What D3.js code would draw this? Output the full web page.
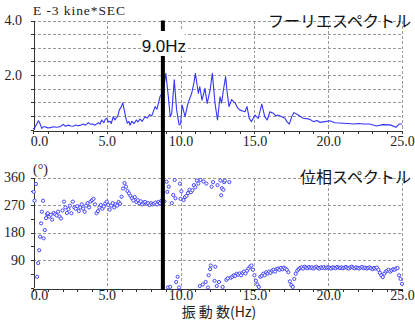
<!DOCTYPE html>
<html><head><meta charset="utf-8">
<script src="https://cdn.jsdelivr.net/npm/d3@7"></script>
<style>body{margin:0;background:#fff}svg{display:block}</style>
</head><body>
<svg id="c" width="415" height="320"></svg>
<script>
// ---------- data ----------
const specFreq = [0.0,0.07,0.2,0.36,0.45,0.59,0.7,0.81,1.0,1.15,1.4,1.6,1.83,2.05,2.2,2.4,2.55,2.73,2.9,3.0,3.18,3.4,3.55,3.75,3.9,4.05,4.2,4.43,4.55,4.65,4.8,4.9,5.0,5.1,5.22,5.3,5.44,5.55,5.62,5.75,5.85,6.0,6.08,6.15,6.23,6.3,6.39,6.5,6.57,6.7,6.85,7.0,7.1,7.25,7.4,7.59,7.75,7.9,8.05,8.27,8.4,8.6,8.75,8.85,9.0,9.17,9.3,9.4,9.57,9.73,9.9,10.0,10.1,10.3,10.5,10.75,10.9,11.0,11.2,11.3,11.45,11.65,11.8,12.0,12.15,12.33,12.5,12.67,12.78,12.9,13.05,13.16,13.28,13.46,13.7,13.85,14.0,14.2,14.36,14.5,14.65,14.8,15.04,15.26,15.5,15.7,15.87,16.05,16.28,16.45,16.6,16.85,17.07,17.2,17.37,17.53,17.68,17.97,18.3,18.65,18.77,19.0,19.25,19.45,19.78,20.1,20.46,21.0,21.35,21.7,22.05,22.4,22.8,23.28,23.7,24.2,24.6,24.8,25.0];
const specAmp  = [0.05,0.02,0.15,0.32,0.25,0.04,0.1,0.1,0.06,0.07,0.1,0.08,0.1,0.19,0.12,0.16,0.13,0.12,0.17,0.14,0.15,0.2,0.16,0.25,0.19,0.2,0.16,0.25,0.2,0.35,0.25,0.38,0.41,0.28,0.3,0.22,0.47,0.35,0.41,0.5,0.72,0.85,0.98,0.8,0.59,0.4,0.23,0.3,0.16,0.3,0.22,0.35,0.28,0.38,0.3,0.47,0.42,0.55,0.5,0.84,0.75,1.2,1.33,1.5,2.06,1.2,0.47,0.6,1.82,0.72,0.17,0.2,0.9,0.47,0.96,1.33,1.7,2.06,1.33,1.57,1.08,1.51,0.96,1.45,2.06,0.97,0.35,1.2,0.97,1.45,1.94,1.33,0.84,1.1,0.97,0.8,0.72,0.68,0.65,0.84,0.41,0.29,0.53,0.41,0.93,0.47,0.35,0.65,0.6,0.5,0.53,0.47,0.41,0.29,0.2,0.47,0.62,0.53,0.41,0.39,0.37,0.29,0.33,0.26,0.29,0.32,0.25,0.23,0.22,0.2,0.22,0.2,0.2,0.13,0.18,0.17,0.08,0.2,0.2];

const phaseFreq = [
 0.05,0.1,0.2,0.28,0.35,0.42,0.48,0.55,0.6,0.68,0.72,0.8,0.88,0.95,
 1.0,1.1,1.2,1.3,1.4,1.5,1.6,1.7,1.8,1.9,
 2.0,2.1,2.2,2.3,2.4,2.5,2.6,2.7,2.8,2.9,
 3.0,3.1,3.2,3.3,3.4,3.5,3.6,3.7,3.8,3.9,
 4.0,4.1,4.2,4.3,4.4,4.5,4.6,4.7,4.8,4.9,
 5.0,5.1,5.2,5.3,5.4,5.5,5.6,5.7,5.8,5.9,
 6.0,6.1,6.2,6.3,6.4,6.5,6.6,6.7,6.8,6.9,
 7.0,7.1,7.2,7.3,7.4,7.5,7.6,7.7,7.8,7.9,
 8.0,8.1,8.2,8.3,8.4,8.5,8.6,8.7,8.8,8.9,
 9.05,9.1,9.15,9.2,9.3,9.4,9.5,9.6,9.65,9.7,9.8,9.9,9.95,
 10.0,10.05,10.2,10.3,10.4,10.5,10.6,10.7,10.8,10.9,11.0,
 11.1,11.2,11.3,11.35,11.5,11.55,11.7,11.75,11.85,11.9,12.0,
 12.05,12.1,12.2,12.3,12.35,12.45,12.5,12.6,12.7,12.75,12.8,12.85,12.9,12.95,13.0,
 13.1,13.2,13.3,13.4,13.5,13.6,13.7,13.8,13.9,14.0,
 14.1,14.2,14.3,14.4,14.5,14.6,14.7,14.8,14.9,15.0,
 15.1,15.2,15.3,15.4,15.5,15.6,15.7,15.8,15.9,16.0,
 16.1,16.2,16.3,16.4,16.5,16.6,16.7,16.8,16.9,17.0,
 17.1,17.2,17.3,17.4,17.5,17.6,17.7,17.8,17.9,18.0,
 18.1,18.2,18.3,18.4,18.5,18.6,18.7,18.8,18.9,19.0,
 19.1,19.2,19.3,19.4,19.5,19.6,19.7,19.8,19.9,20.0,
 20.1,20.2,20.3,20.4,20.5,20.6,20.7,20.8,20.9,21.0,
 21.1,21.2,21.3,21.4,21.5,21.6,21.7,21.8,21.9,22.0,
 22.1,22.2,22.3,22.4,22.5,22.6,22.7,22.8,22.9,23.0,
 23.1,23.2,23.3,23.4,23.5,23.6,23.7,23.8,23.9,24.0,
 24.1,24.2,24.3,24.4,24.5,24.6,24.7,24.8,24.9,25.0];
const phaseDeg = [
 313,284,339,35,80,122,166,210,248,284,161,188,227,240,
 243,232,238,222,244,240,236,248,232,226,
 252,281,262,244,256,268,243,281,262,258,
 266,250,262,272,258,248,268,276,262,281,
 286,290,272,243,250,262,270,258,265,275,
 281,270,255,268,276,262,272,268,280,274,
 297,324,342,330,316,308,300,292,285,296,
 280,286,276,282,272,278,280,274,276,270,
 276,272,274,278,272,280,276,284,286,282,
 346,313,0,330,2,276,303,352,292,18,35,0,340,
 290,315,286,296,300,309,320,312,318,335,328,
 350,340,5,352,10,347,18,340,0,40,60,
 72,330,345,22,68,5,335,18,350,302,325,2,320,345,350,
 25,30,345,32,35,40,38,45,42,46,
 40,48,52,46,55,62,68,72,58,40,
 22,10,2,35,38,45,40,50,46,52,
 48,55,58,52,60,62,58,64,60,65,
 62,58,50,20,8,2,28,45,55,60,
 64,66,62,68,65,63,67,64,66,62,
 65,68,64,62,66,64,67,63,65,66,
 64,62,66,65,63,67,65,64,66,63,
 65,67,64,62,66,68,65,63,66,64,
 62,65,67,63,65,62,64,66,63,60,
 64,62,65,58,48,40,34,45,52,55,
 58,52,56,60,58,62,64,40,28,12];

const xLabelVals = [0,5,10,15,20,25];
const xMinorVals = d3.range(0, 26, 1);
const ampGridVals = [0.5,1.0,1.5,2.0,2.5,3.0,3.5,4.0];
const ampLabelVals = [2.0,4.0];
const ampTickVals = [0,0.5,1.0,1.5,2.0,2.5,3.0,3.5,4.0];
const phaseGridVals = [90,180,270,360];
const phaseTickVals = [0,45,90,135,180,225,270,315,360];
const markerFreq = 8.8;
const markerLabel = "9.0Hz";
const titleTop = "フーリエスペクトル";
const titleBottom = "位相スペクトル";
const unitTop = "E -3 kine*SEC";
const unitBottom = "(°)";
const xTitle = "振 動 数(Hz)";

// ---------- drawing ----------
const svg = d3.select("#c");
const blue = "#3535ff";
const gridCol = "#9a9a9a";
const serif = "'Liberation Serif','DejaVu Serif',serif";
const x = d3.scaleLinear([0,25],[33,402]);
const yA = d3.scaleLinear([0,4],[129.5,20.5]);
const yP = d3.scaleLinear([0,360],[287.5,177.5]);
const px = v => Math.round(v) + 0.5;

function grid(yScale, vals, y0, y1) {
  const g = svg.append("g").attr("stroke", gridCol).attr("stroke-dasharray","3,2").attr("shape-rendering","crispEdges");
  vals.forEach(v => g.append("line").attr("x1", x(0)).attr("x2", x(25)).attr("y1", px(yScale(v))).attr("y2", px(yScale(v))));
  xLabelVals.slice(1).forEach(v => g.append("line").attr("x1", px(x(v))).attr("x2", px(x(v))).attr("y1", y0).attr("y2", y1));
}
grid(yA, ampGridVals, yA(4), yA(0));
grid(yP, phaseGridVals, yP(360), yP(0));

// axes (ticks)
function axes(yScale, yTicks) {
  const gx = svg.append("g").attr("transform", `translate(0,${px(yScale.range()[0])})`)
    .call(d3.axisBottom(x).tickValues(xMinorVals).tickSize(3).tickSizeOuter(0).tickFormat(""));
  const gy = svg.append("g").attr("transform", `translate(${px(x(0))},0)`)
    .call(d3.axisLeft(yScale).tickValues(yTicks).tickSize(3).tickSizeOuter(0).tickFormat(""));
  [gx, gy].forEach(g => { g.selectAll("path,line").attr("stroke","#333").attr("shape-rendering","crispEdges"); });
}
axes(yA, ampTickVals);
axes(yP, phaseTickVals);

// y labels
svg.append("g").attr("transform","translate(22,0)")
  .call(d3.axisLeft(yA).tickValues(ampLabelVals).tickSize(0).tickPadding(0).tickFormat(d3.format(".1f")))
  .call(g => { g.select(".domain").remove(); g.selectAll("text").attr("font-family", serif).attr("font-size", 14).attr("fill","#222"); });
svg.append("g").attr("transform","translate(25,0)")
  .call(d3.axisLeft(yP).tickValues(phaseGridVals).tickSize(0).tickPadding(0).tickFormat(d3.format("d")))
  .call(g => { g.select(".domain").remove(); g.selectAll("text").attr("font-family", serif).attr("font-size", 14).attr("fill","#222"); });

// x labels
svg.append("clipPath").attr("id","topclip").append("rect").attr("x",0).attr("y",0).attr("width",415).attr("height",142);
function xLabels(yPos, clip) {
  const g = svg.append("g").attr("transform", `translate(0,${yPos})`)
    .call(d3.axisBottom(x).tickValues(xLabelVals).tickSize(0).tickPadding(0).tickFormat(d3.format(".1f")))
    .call(g => { g.select(".domain").remove(); g.selectAll("text").attr("font-family", serif).attr("font-size", 14).attr("fill","#222"); });
  g.selectAll(".tick").filter(d => d === 0).select("text").attr("dx", 6);
  if (clip) g.attr("clip-path","url(#topclip)");
}
xLabels(136, true);
xLabels(290, false);

// spectrum line
svg.append("path").datum(specFreq.map((f,i)=>[f, specAmp[i]]))
  .attr("fill","none").attr("stroke", blue).attr("stroke-width",1.1).attr("stroke-linejoin","round")
  .attr("d", d3.line().x(d=>x(d[0])).y(d=>yA(d[1])));

// phase points
svg.append("g").selectAll("circle").data(phaseFreq.map((f,i)=>[f, phaseDeg[i]])).join("circle")
  .attr("cx", d=>x(d[0])).attr("cy", d=>yP(d[1])).attr("r",1.6)
  .attr("fill","#ffffff").attr("stroke", blue).attr("stroke-width",0.9);

// marker
const mx = x(markerFreq);
svg.append("line").attr("x1",mx).attr("x2",mx).attr("y1",yA(4)).attr("y2",290).attr("stroke","#000").attr("stroke-width",4);
svg.append("rect").attr("x",mx-21).attr("y",31).attr("width",43).attr("height",25).attr("fill","#fff");
svg.append("text").attr("x",mx+1).attr("y",52).attr("text-anchor","middle")
  .attr("font-family","'Liberation Sans',Arial,sans-serif").attr("font-size",17).attr("fill","#111").text(markerLabel);

// titles
const jp = "'Noto Sans CJK JP','Noto Sans',sans-serif";
svg.append("text").attr("x",411).attr("y",27).attr("text-anchor","end").attr("font-family",jp).attr("font-size",16).attr("fill","#111").text(titleTop);
svg.append("text").attr("x",411).attr("y",183).attr("text-anchor","end").attr("font-family",jp).attr("font-size",16).attr("fill","#111").text(titleBottom);
svg.append("text").attr("x",33).attr("y",15).attr("font-family",serif).attr("font-size",13.5).attr("fill","#222")
  .attr("textLength",92).attr("lengthAdjust","spacing").text(unitTop);
svg.append("text").attr("x",33).attr("y",174).attr("font-family",serif).attr("font-size",14).attr("fill","#222").text(unitBottom);
svg.append("text").attr("x",219).attr("y",317).attr("text-anchor","middle").attr("font-family",jp).attr("font-size",14).attr("fill","#222").text(xTitle);
</script>
</body></html>
